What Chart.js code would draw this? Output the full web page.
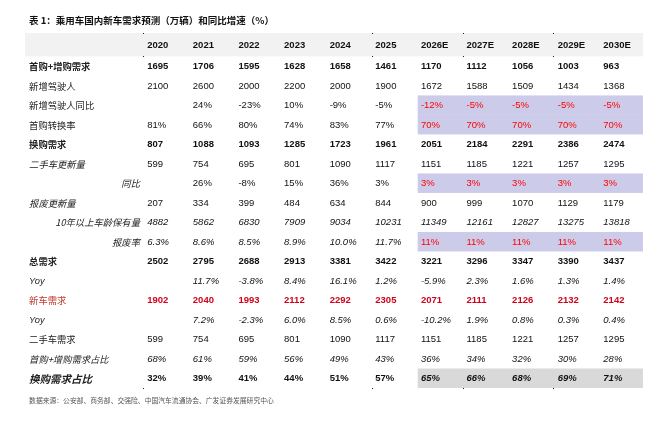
<!DOCTYPE html>
<html>
<head>
<meta charset="utf-8">
<script src="https://cdn.jsdelivr.net/npm/chart.js@4.4.0/dist/chart.umd.min.js"></script>
<style>
  html, body { margin: 0; padding: 0; background: #fff; }
</style>
</head>
<body>
<canvas id="demandTable" width="669" height="422"></canvas>
<script>
// table data
const title = "表 1：乘用车国内新车需求预测（万辆）和同比增速（%）";
const source = "数据来源：公安部、商务部、交强险、中国汽车流通协会、广发证券发展研究中心";
const years = ["2020", "2021", "2022", "2023", "2024", "2025", "2026E", "2027E", "2028E", "2029E", "2030E"];
const rowLabels = ["首购+增购需求", "新增驾驶人", "新增驾驶人同比", "首购转换率", "换购需求", "二手车更新量", "同比",
  "报废更新量", "10年以上车龄保有量", "报废率", "总需求", "Yoy", "新车需求", "Yoy", "二手车需求", "首购+增购需求占比", "换购需求占比"];

const firstBuy = [1695, 1706, 1595, 1628, 1658, 1461, 1170, 1112, 1056, 1003, 963];
const newDrivers = [2100, 2600, 2000, 2200, 2000, 1900, 1672, 1588, 1509, 1434, 1368];
const newDriversYoy = [null, 24, -23, 10, -9, -5, -12, -5, -5, -5, -5];
const firstConvRate = [81, 66, 80, 74, 83, 77, 70, 70, 70, 70, 70];
const replaceDemand = [807, 1088, 1093, 1285, 1723, 1961, 2051, 2184, 2291, 2386, 2474];
const usedUpdate = [599, 754, 695, 801, 1090, 1117, 1151, 1185, 1221, 1257, 1295];
const usedUpdateYoy = [null, 26, -8, 15, 36, 3, 3, 3, 3, 3, 3];
const scrapUpdate = [207, 334, 399, 484, 634, 844, 900, 999, 1070, 1129, 1179];
const oldCarStock = [4882, 5862, 6830, 7909, 9034, 10231, 11349, 12161, 12827, 13275, 13818];
const scrapRate = [6.3, 8.6, 8.5, 8.9, 10.0, 11.7, 11, 11, 11, 11, 11];
const totalDemand = [2502, 2795, 2688, 2913, 3381, 3422, 3221, 3296, 3347, 3390, 3437];
const totalYoy = [null, 11.7, -3.8, 8.4, 16.1, 1.2, -5.9, 2.3, 1.6, 1.3, 1.4];
const newCarDemand = [1902, 2040, 1993, 2112, 2292, 2305, 2071, 2111, 2126, 2132, 2142];
const newCarYoy = [null, 7.2, -2.3, 6.0, 8.5, 0.6, -10.2, 1.9, 0.8, 0.3, 0.4];
const usedDemand = [599, 754, 695, 801, 1090, 1117, 1151, 1185, 1221, 1257, 1295];
const firstBuyShare = [68, 61, 59, 56, 49, 43, 36, 34, 32, 30, 28];
const replaceShare = [32, 39, 41, 44, 51, 57, 65, 66, 68, 69, 71];

const rowValues = [firstBuy, newDrivers, newDriversYoy, firstConvRate, replaceDemand, usedUpdate, usedUpdateYoy,
  scrapUpdate, oldCarStock, scrapRate, totalDemand, totalYoy, newCarDemand, newCarYoy, usedDemand, firstBuyShare, replaceShare];

const FORECAST_FROM = 6; // first "E" column

// formatting / styling, kept apart from the data
const fmtInt = v => String(v);
const fmtPct0 = v => v + "%";
const fmtPct1 = v => v.toFixed(1) + "%";
const fmtScrap = (v, i) => i >= FORECAST_FROM ? v + "%" : v.toFixed(1) + "%";
const rowFormat = [fmtInt, fmtInt, fmtPct0, fmtPct0, fmtInt, fmtInt, fmtPct0, fmtInt, fmtInt, fmtScrap,
  fmtInt, fmtPct1, fmtInt, fmtPct1, fmtInt, fmtPct0, fmtPct0];

const NUM_FONT = '"Liberation Sans", Arial, sans-serif';
const CJK_FONT = '"Noto Sans CJK SC", "Liberation Sans", sans-serif';
const RED = "#ff0000";
const DARK_RED = "#d0021b";

// label style: [weight/italic, right aligned, colour, size]
const labelStyle = [
  { font: "bold" }, {}, {}, {}, { font: "bold" }, { font: "italic" }, { font: "italic", right: true },
  { font: "italic" }, { font: "italic", right: true }, { font: "italic", right: true }, { font: "bold" },
  { font: "italic", latin: true }, { color: "#c0392b" }, { font: "italic", latin: true }, {},
  { font: "italic" }, { font: "italic bold", size: 10.5 }
];

function cellStyle(row, col) {
  const r = row + 1;
  const forecast = col >= FORECAST_FROM;
  if (r === 1 || r === 5 || r === 11) return { font: "bold" };
  if (r === 13) return { font: "bold", color: DARK_RED };
  if ((r === 3 || r === 4 || r === 7) && forecast) return { color: RED };
  if (r === 10) return forecast ? { color: RED } : { font: "italic" };
  if (r === 9 || r === 12 || r === 14 || r === 16) return { font: "italic" };
  if (r === 17) return forecast ? { font: "italic bold" } : { font: "bold" };
  return {};
}

const shadedPurple = [3, 4, 7, 10];
const shadedGray = [17];

const X_LABEL = -2.59, X_LABEL_RIGHT = -0.16, X_SHADE = FORECAST_FROM - 0.07;
const Y_HEADER = -0.1;

const datasets = [{
  label: "header",
  data: years.map((yr, i) => ({ x: i, y: Y_HEADER })),
  pointRadius: 0
}];
rowValues.forEach((vals, r) => {
  const pts = [];
  vals.forEach((v, i) => { if (v !== null) pts.push({ x: i, y: r + 1, v: v }); });
  datasets.push({ label: rowLabels[r], data: pts, pointRadius: 0 });
});

const tablePlugin = {
  id: "tableCells",
  beforeDatasetsDraw(chart) {
    const { ctx, scales: { x, y } } = chart;
    ctx.save();
    // header band
    ctx.fillStyle = "#f2f2f2";
    let top = y.getPixelForValue(-0.7), bot = y.getPixelForValue(0.5);
    ctx.fillRect(x.left, top, x.right - x.left, bot - top);
    // forecast shading
    const shade = (rows, color) => rows.forEach(r => {
      const t = y.getPixelForValue(r - 0.5), b = y.getPixelForValue(r + 0.5);
      const l = x.getPixelForValue(X_SHADE);
      ctx.fillStyle = color;
      ctx.fillRect(l, t, x.right - l, b - t);
    });
    shade(shadedPurple, "#ccccea");
    shade(shadedGray, "#d9d9d9");
    // little column-border dots
    ctx.fillStyle = "#222";
    [-0.09, 4.93, 6.93, 8.9].forEach(c => {
      [-0.7, 0.5, 17.5].forEach(rv => {
        ctx.fillRect(Math.round(x.getPixelForValue(c)), Math.round(y.getPixelForValue(rv)), 1, 1);
      });
    });
    ctx.restore();
  },
  afterDatasetsDraw(chart) {
    const { ctx, scales: { x, y } } = chart;
    ctx.save();
    ctx.textBaseline = "middle";
    chart.data.datasets.forEach((ds, di) => {
      const meta = chart.getDatasetMeta(di);
      meta.data.forEach((el, i) => {
        let text, st;
        if (di === 0) {
          text = years[i];
          st = { font: "bold" };
        } else {
          const r = di - 1;
          const pt = ds.data[i];
          text = rowFormat[r](pt.v, pt.x);
          st = cellStyle(r, pt.x);
        }
        ctx.font = (st.font ? st.font + " " : "") + "9.5px " + NUM_FONT;
        ctx.fillStyle = st.color || "#111";
        ctx.textAlign = "left";
        ctx.fillText(text, el.x, el.y + 0.5);
      });
    });
    // row labels
    rowLabels.forEach((lab, r) => {
      const st = labelStyle[r];
      ctx.font = (st.font ? st.font + " " : "") + (st.size || 9.3) + "px " + (st.latin ? NUM_FONT : CJK_FONT);
      ctx.fillStyle = st.color || "#222";
      ctx.textAlign = st.right ? "right" : "left";
      ctx.fillText(lab, x.getPixelForValue(st.right ? X_LABEL_RIGHT : X_LABEL), y.getPixelForValue(r + 1) + 0.5);
    });
    // title and source
    ctx.textAlign = "left";
    ctx.fillStyle = "#111";
    ctx.font = "bold 9.5px " + CJK_FONT;
    ctx.fillText(title, x.getPixelForValue(X_LABEL), y.top - 13);
    ctx.fillStyle = "#555";
    ctx.font = "6.8px " + CJK_FONT;
    ctx.fillText(source, x.getPixelForValue(X_LABEL), y.bottom + 12);
    ctx.restore();
  }
};

new Chart(document.getElementById("demandTable"), {
  type: "scatter",
  data: { datasets: datasets },
  options: {
    responsive: false,
    animation: false,
    layout: { padding: { left: 25, right: 26, top: 33, bottom: 34 } },
    scales: {
      x: { type: "linear", min: -2.68, max: 10.87, display: false },
      y: { type: "linear", min: -0.7, max: 17.5, reverse: true, display: false }
    },
    plugins: { legend: { display: false }, tooltip: { enabled: false } }
  },
  plugins: [tablePlugin]
});
</script>
</body>
</html>
